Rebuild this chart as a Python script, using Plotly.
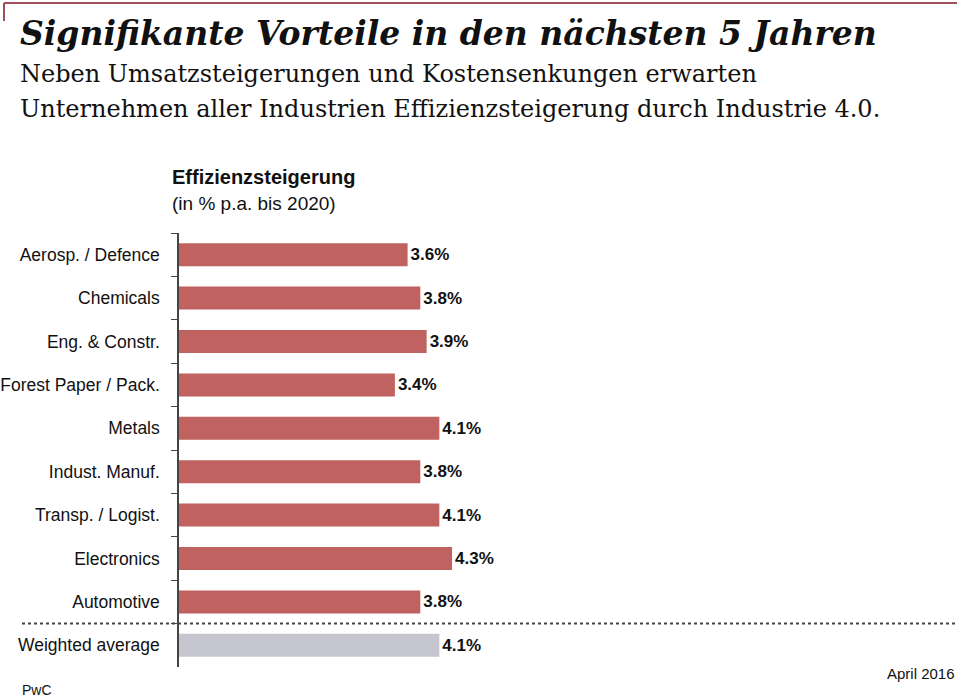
import plotly.graph_objects as go

categories = ["Aerosp. / Defence", "Chemicals", "Eng. & Constr.", "Forest Paper / Pack.",
              "Metals", "Indust. Manuf.", "Transp. / Logist.", "Electronics",
              "Automotive", "Weighted average"]
values = [3.6, 3.8, 3.9, 3.4, 4.1, 3.8, 4.1, 4.3, 3.8, 4.1]
bar_colors = ["#c0625f"] * 9 + ["#c5c6d0"]

W, H = 960, 697
L, R, T, B = 179, 19, 233, 30
PW, PH = W - L - R, H - T - B

def px(x):
    return (x - L) / PW

def py(y):
    return (H - B - y) / PH

fig = go.Figure(go.Bar(
    x=values, y=categories, orientation="h",
    marker=dict(color=bar_colors, line=dict(width=0)),
    text=[f"<b>{v:.1f}%</b>" for v in values],
    textposition="outside", cliponaxis=False,
    textfont=dict(family="Arial, Liberation Sans", size=17, color="#111111"),
    width=0.53,
))

fig.update_layout(
    width=W, height=H, autosize=False,
    margin=dict(l=L, r=R, t=T, b=B, autoexpand=False),
    paper_bgcolor="white", plot_bgcolor="white",
    showlegend=False,
    font=dict(family="Arial, Liberation Sans", color="#111111"),
    xaxis=dict(range=[0, PW / 63.5], visible=False, fixedrange=True, automargin=False),
    yaxis=dict(autorange="reversed", showline=True, linecolor="#444444", linewidth=1.5,
               ticks="outside", ticklen=6, tickcolor="#444444", tickson="boundaries",
               tickfont=dict(size=17.5, family="Arial, Liberation Sans", color="#111111"),
               showgrid=False, zeroline=False, ticklabelstandoff=14, automargin=False),
)

shapes = [
    dict(type="line", xref="paper", yref="paper", x0=px(4), x1=px(957), y0=py(3), y1=py(3),
         line=dict(color="#a0505a", width=2)),
    dict(type="line", xref="paper", yref="paper", x0=px(4), x1=px(4), y0=py(3), y1=py(21),
         line=dict(color="#a0505a", width=2)),
    dict(type="line", xref="paper", yref="paper", x0=px(22), x1=px(958), y0=py(623.5), y1=py(623.5),
         line=dict(color="#444444", width=2, dash="dot")),
]
fig.update_layout(shapes=shapes)

def ann(text, x, y, size, family="Arial, Liberation Sans", xanchor="left", color="#111111"):
    fig.add_annotation(text=text, x=px(x), y=py(y), xref="paper", yref="paper",
                       xanchor=xanchor, yanchor="middle", showarrow=False,
                       font=dict(size=size, family=family, color=color))

serif = "DejaVu Serif, Liberation Serif, serif"
ann("<b><i>Signifikante Vorteile in den nächsten 5 Jahren</i></b>", 18, 34, 33, serif)
ann("Neben Umsatzsteigerungen und Kostensenkungen erwarten", 18, 74, 24, serif)
ann("Unternehmen aller Industrien Effizienzsteigerung durch Industrie 4.0.", 18, 109, 24, serif)
ann("<b>Effizienzsteigerung</b>", 170, 177, 20)
ann("(in % p.a. bis 2020)", 170, 203, 19)
ann("PwC", 20, 690, 14)
ann("April 2016", 957, 673, 15, xanchor="right")

fig.write_html("out.html",
               config={"responsive": False, "displayModeBar": False},
               post_script="document.body.style.margin='0';document.body.style.overflow='hidden';")
